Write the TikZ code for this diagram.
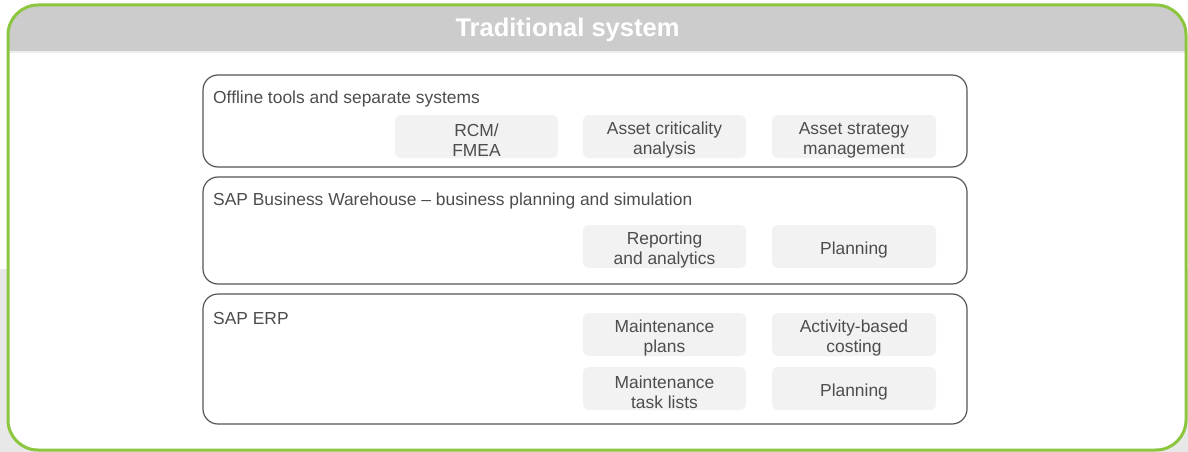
\documentclass[tikz,border=0pt]{standalone}
\usepackage{fontspec}
\setmainfont{Liberation Sans}
\definecolor{sapgreen}{HTML}{8CC63F}
\definecolor{hdrgrey}{HTML}{CCCCCC}
\definecolor{hdrline}{HTML}{EEEEEE}
\definecolor{bggrey}{HTML}{E8E8E8}
\definecolor{boxline}{HTML}{555555}
\definecolor{cellfill}{HTML}{F2F2F2}
\definecolor{txt}{HTML}{4D4D4D}
\tikzset{
  layerbox/.style={draw=boxline, line width=1.2pt, rounded corners=15pt, inner sep=0pt},
  cellbg/.style={fill=cellfill, rounded corners=6pt, minimum width=163pt, minimum height=43pt, inner sep=0pt},
  celltext/.style={inner sep=0pt, align=center, text=txt, font=\fontsize{17.4}{20}\selectfont},
  layertitle/.style={anchor=base west, text=txt, inner sep=0pt, font=\fontsize{17.4}{20}\selectfont}
}
\newcommand\mkcell[4][]{%
  \node[cellbg,#1] (#2) at (#3) {};
  \node[celltext] (#2-t) at ([yshift=-3.5pt]#2.center) {#4};}
\begin{document}
\begin{tikzpicture}[x=1pt,y=-1pt]
\useasboundingbox (0,0) rectangle (1188,452);
% background grey outside
\fill[bggrey] (0,269) rectangle (1188,452);
% outer frame
\fill[white, rounded corners=30pt] (8,5) rectangle (1186,450);
\begin{scope}
  \clip[rounded corners=30pt] (8,5) rectangle (1186,450);
  \fill[hdrgrey] (8,5) rectangle (1186,51);
  \fill[hdrline] (8,51) rectangle (1186,53);
\end{scope}
\draw[sapgreen, line width=3pt, rounded corners=30pt] (8,5) rectangle (1186,450);
\node[text=white, font=\fontsize{25.5}{28}\selectfont\bfseries, inner sep=0pt, anchor=base] (hdr) at (567.5,37) {Traditional system};
% layer boxes
\node[layerbox, minimum width=764pt, minimum height=92pt] (l1) at (585,121) {};
\node[layerbox, minimum width=764pt, minimum height=107pt] (l2) at (585,230.5) {};
\node[layerbox, minimum width=764pt, minimum height=130pt] (l3) at (585,359) {};
\node[layertitle] (t1) at (213,103) {Offline tools and separate systems};
\node[layertitle] (t2) at (213,205) {SAP Business Warehouse -- business planning and simulation};
\node[layertitle] (t3) at (213,324) {SAP ERP};
% cells
\mkcell{rcm}{476.5,136.5}{RCM/\\FMEA}
\mkcell{acrit}{664.5,136.5}{Asset criticality\\analysis}
\mkcell[minimum width=164pt]{astrat}{854,136.5}{Asset strategy\\management}
\mkcell{rep}{664.5,246.5}{Reporting\\and analytics}
\mkcell[minimum width=164pt]{plana}{854,246.5}{Planning}
\mkcell{mplans}{664.5,334.5}{Maintenance\\plans}
\mkcell[minimum width=164pt]{abc}{854,334.5}{Activity-based\\costing}
\mkcell{mtask}{664.5,388.5}{Maintenance\\task lists}
\mkcell[minimum width=164pt]{planb}{854,388.5}{Planning}
\end{tikzpicture}
\end{document}
